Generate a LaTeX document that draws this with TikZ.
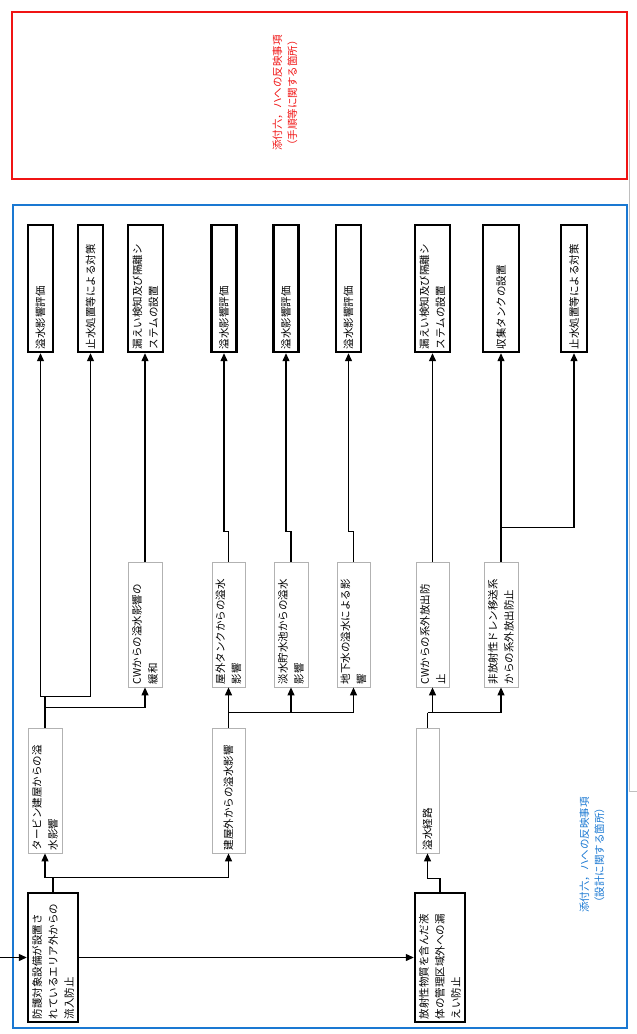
\documentclass[tikz,border=0pt]{standalone}
\usepackage{fontspec}
\newfontfamily\jp{Noto Sans CJK JP}
\usetikzlibrary{arrows.meta,calc}
\definecolor{myblue}{RGB}{26,120,210}
\definecolor{myred}{RGB}{240,20,20}
\begin{document}
\begin{tikzpicture}[x=1pt,y=-1pt,
  base/.style={rotate=90, align=left, inner xsep=3pt, inner ysep=0pt,
    font=\jp\fontsize{10.5pt}{16pt}\selectfont, anchor=center},
  boldbox/.style={base, draw=black, line width=2.4pt},
  thinbox/.style={base, draw=black!30, line width=0.8pt},
  sz/.style n args={3}{minimum width=#1, minimum height=#2, text width=#3},
  conn/.style={line width=1.2pt, black},
  arr/.style={conn, -{Triangle[length=8pt,width=7pt]}},
  lbl/.style={rotate=90, align=center, inner sep=0pt,
    font=\jp\fontsize{10.5pt}{15pt}\selectfont}
]
\useasboundingbox (0,0) rectangle (637,1034);

% frames
\draw[myred, line width=2pt] (12,12) rectangle (627,179);
\draw[myblue, line width=2pt] (13,205) rectangle (627,1028);
\draw[black!25, line width=0.6pt] (629,100) -- (629,791) -- (637,791);

\node[lbl, text=myred] (redlbl) at (285,93) {添付六，ハへの反映事項\\（手順等に関する箇所）};
\node[lbl, text=myblue] (bluelbl) at (592,855) {添付六，ハへの反映事項\\（設計に関する箇所）};

% top row
\node[boldbox, sz={127pt}{25pt}{121pt}] (e1) at (40.5,288.5) {溢水影響評価};
\node[boldbox, sz={127pt}{25pt}{121pt}] (s1) at (90.5,288.5) {止水処置等による対策};
\node[boldbox, sz={127pt}{35pt}{121pt}] (l1) at (145.5,288.5) {漏えい検知及び隔離シ\\ステムの設置};
\node[boldbox, sz={127pt}{25pt}{121pt}] (e2) at (224,288.5) {溢水影響評価};
\node[boldbox, sz={127pt}{25pt}{121pt}] (e3) at (286,288.5) {溢水影響評価};
\node[boldbox, sz={127pt}{25pt}{121pt}] (e4) at (348.5,288.5) {溢水影響評価};
\node[boldbox, sz={127pt}{35pt}{121pt}] (l2) at (432.5,288.5) {漏えい検知及び隔離シ\\ステムの設置};
\node[boldbox, sz={127pt}{36pt}{121pt}] (t1) at (501,288.5) {収集タンクの設置};
\node[boldbox, sz={127pt}{26pt}{121pt}] (s2) at (574,288.5) {止水処置等による対策};

% middle row
\node[thinbox, sz={125pt}{34pt}{119pt}] (cw1) at (145,624.5) {CWからの溢水影響の\\緩和};
\node[thinbox, sz={125pt}{33pt}{119pt}] (ot) at (228.5,624.5) {屋外タンクからの溢水\\影響};
\node[thinbox, sz={125pt}{34pt}{119pt}] (fw) at (291,624.5) {淡水貯水池からの溢水\\影響};
\node[thinbox, sz={125pt}{33pt}{119pt}] (gw) at (353.5,624.5) {地下水の溢水による影\\響};
\node[thinbox, sz={125pt}{33pt}{119pt}] (cw2) at (432.5,624.5) {CWからの系外放出防\\止};
\node[thinbox, sz={125pt}{34pt}{119pt}] (nd) at (501,624.5) {非放射性ドレン移送系\\からの系外放出防止};

% lower row
\node[thinbox, sz={125pt}{34pt}{119pt}] (tb) at (45,790.5) {タービン建屋からの溢\\水影響};
\node[thinbox, sz={125pt}{33pt}{119pt}] (bo) at (228.5,790.5) {建屋外からの溢水影響};
\node[thinbox, sz={125pt}{23pt}{119pt}] (ir) at (427.5,790.5) {溢水経路};

% root row
\node[boldbox, sz={129pt}{50pt}{123pt}] (r1) at (53,957.5) {防護対象設備が設置さ\\れているエリア外からの\\流入防止};
\node[boldbox, sz={129pt}{50pt}{123pt}] (r2) at (440,957.5) {放射性物質を含んだ液\\体の管理区域外への漏\\えい防止};

% connectors
\coordinate (in) at (0,957.5);
\draw[arr] (in) -- (r1.north);
\draw[arr] (r1.south) -- (r2.north);

\draw[conn] (r1.east) -- ++(0,-14) coordinate (j1);
\draw[arr] (j1) -| (tb.west);
\draw[arr] (j1) -| (bo.west);

\draw[arr] (r2.east) -- ++(0,-13) -| (ir.west);

\draw[conn] (tb.east) -- ++(0,-20) coordinate (j2);
\draw[arr] (j2) -| (cw1.west);
\draw[conn] (j2) -- ++(0,-11) coordinate (j3);
\draw[arr] (j3) -| (e1.west);
\draw[arr] (j3) -| (s1.west);
\draw[arr] (cw1.east) -- (cw1.east |- l1.west);

\draw[conn] (bo.east) -- ++(0,-15) coordinate (j4);
\draw[arr] (j4) -| (ot.west);
\draw[arr] (j4) -| (fw.west);
\draw[arr] (j4) -| (gw.west);
\draw[arr] (ot.east) -- ++(0,-30) -| (e2.west);
\draw[arr] (fw.east) -- ++(0,-30) -| (e3.west);
\draw[arr] (gw.east) -- ++(0,-30) -| (e4.west);

\draw[conn] (ir.east) -- ++(0,-15) coordinate (j5);
\draw[arr] (j5) -| (cw2.west);
\draw[arr] (j5) -| (nd.west);
\draw[arr] (cw2.east) -- (cw2.east |- l2.west);
\draw[arr] (nd.east) -- (nd.east |- t1.west);
\draw[conn] (nd.east) -- ++(0,-34) coordinate (j6);
\draw[arr] (j6) -| (s2.west);
\end{tikzpicture}
\end{document}
